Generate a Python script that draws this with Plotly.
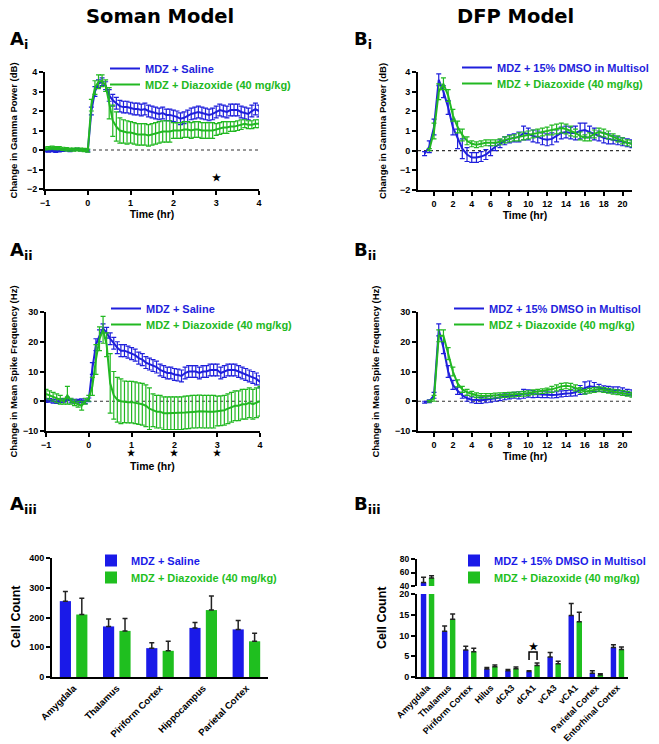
import plotly.graph_objects as go

W, H = 659, 744
OFF = 8  # page body margin
FONT = "Liberation Sans, Arial, sans-serif"
HEAD = "DejaVu Sans, Liberation Sans, sans-serif"
BLUE = "#1f1fdc"
GREEN = "#22b822"
BAR_BLUE = "#1a1ae8"
BAR_GREEN = "#1fbf1f"

# ---- Soman model, 5-min bins from -1 to 4 hr ----
t_soman = [round(-1 + i / 12, 4) for i in range(61)]

gamma_saline = [-0.05, -0.06, -0.04, -0.07, -0.05, -0.02, 0.0, -0.03, 0.02, 0.03, 0.0, 0.02, -0.05,
                2.0, 3.0, 3.4, 3.5, 3.3, 2.8, 2.55, 2.4, 2.25, 2.2, 2.2,
                2.15, 2.1, 2.1, 2.05, 2.1, 2.0, 1.95, 1.9, 1.85, 1.9, 1.8, 1.8,
                1.75, 1.7, 1.6, 1.65, 1.75, 1.85, 1.9, 1.95, 1.9, 1.85, 1.8, 1.85,
                1.95, 2.05, 2.0, 1.95, 2.05, 2.05, 2.05, 1.95, 1.9, 1.85, 2.0, 2.1, 2.0]
gamma_saline_err = [0.05] * 13 + [0.2, 0.25, 0.2, 0.2, 0.2] + [0.3] * 43

gamma_diaz = [0.08, 0.1, 0.12, 0.1, 0.1, 0.06, 0.04, 0.02, 0.02, 0.03, 0.02, 0.0, -0.03,
              2.3, 3.2, 3.5, 3.55, 3.3, 2.4, 1.5, 1.2, 1.0, 0.95, 0.9,
              0.9, 0.85, 0.8, 0.8, 0.8, 0.75, 0.8, 0.85, 0.9, 0.95, 0.95, 0.95,
              1.0, 1.0, 1.0, 1.05, 1.05, 1.0, 1.05, 1.05, 1.0, 1.0, 1.0, 1.0,
              1.05, 1.1, 1.15, 1.15, 1.2, 1.2, 1.25, 1.3, 1.35, 1.3, 1.3, 1.35, 1.35]
gamma_diaz_err = [0.08] * 13 + [0.3, 0.35, 0.35, 0.3, 0.3, 0.8, 0.8, 0.75, 0.65, 0.6, 0.6] + \
                 [0.55] * 12 + [0.4] * 12 + [0.3, 0.3, 0.3, 0.3, 0.25, 0.25, 0.25, 0.25, 0.2, 0.2, 0.2, 0.2, 0.2]

spike_saline = [0.2, 0.3, 0.0, -0.1, 0.2, 0.3, 0.8, 0.1, 0.0, 0.0, 0.2, -0.2, 0.5,
                11, 19, 22, 24.5, 23, 21, 19.5, 18, 17, 17, 16.5,
                16, 15.5, 14.5, 14, 13, 12.5, 12, 11.5, 10.5, 10, 9.5, 9.5,
                9, 8.8, 8.5, 9.5, 10, 10, 10, 9.5, 10, 10, 10.5, 10.5,
                10.5, 9.5, 10, 10.5, 10.5, 10.5, 10, 9.5, 9, 8.5, 8, 7.5, 6.5]
spike_saline_err = [0.6] * 13 + [2, 2, 2, 1.5, 1.8] + [2.0] * 43

spike_diaz = [2.5, 2.0, 1.5, 1.0, 0.5, 0.0, 2.0, 0.0, -0.5, -1.0, -1.5, 0.0, 1.0,
              5, 14, 21, 24, 19, 6, 2, 0.5, 0.0, -0.2, -0.3,
              -0.3, -0.5, -0.8, -1.0, -1.5, -2.5, -3.0, -3.5, -3.5, -4.0, -4.0, -4.0,
              -4.0, -4.0, -4.0, -3.8, -3.7, -3.5, -3.5, -3.4, -3.5, -3.5, -3.5, -3.5,
              -3.3, -3.2, -3.0, -2.5, -2.0, -1.5, -1.5, -1.0, -1.0, -0.5, -1.0, -0.5, 0.0]
spike_diaz_err = [1.5, 1.5, 1.5, 1.5, 1.5, 1.0, 3.0, 1.0, 1.0, 1.0, 1.5, 1.0, 1.0,
                  3, 5, 4, 4.5, 4, 10, 8, 7.5, 7.5] + [7.0] * 8 + [5.5] * 18 + [5.0] * 13

# ---- DFP model, 30-min bins from -1 to 21 hr ----
t_dfp = [-1 + i * 0.5 for i in range(45)]

dfp_gamma_dmso = [-0.15, 0.2, 1.2, 3.6, 3.0, 2.2, 1.2, 0.6, 0.1, -0.2, -0.35, -0.35, -0.3, -0.2, 0.0,
                  0.2, 0.35, 0.5, 0.6, 0.65, 0.7, 0.9, 0.85, 0.75, 0.7, 0.6, 0.55, 0.6, 0.75, 0.9,
                  0.95, 0.9, 0.9, 1.0, 1.05, 0.95, 0.85, 0.75, 0.65, 0.6, 0.55, 0.5, 0.45, 0.4, 0.35]
dfp_gamma_dmso_err = [0.1, 0.3, 0.4, 0.3, 0.3, 0.35, 0.4, 0.5, 0.5, 0.35, 0.25, 0.25, 0.25, 0.25, 0.25,
                      0.2, 0.2, 0.2, 0.2, 0.2, 0.25, 0.35, 0.3, 0.3, 0.3, 0.3, 0.3, 0.3, 0.3, 0.3,
                      0.3, 0.3, 0.35, 0.4, 0.35, 0.3, 0.3, 0.25, 0.25, 0.25, 0.2, 0.2, 0.2, 0.2, 0.2]
dfp_gamma_diaz = [None, 0.05, 1.0, 3.0, 3.4, 2.8, 1.8, 1.2, 0.8, 0.5, 0.35, 0.3, 0.35, 0.4, 0.4,
                  0.4, 0.45, 0.55, 0.6, 0.65, 0.7, 0.75, 0.8, 0.85, 0.9, 0.95, 1.0, 1.05, 1.1, 1.15,
                  1.1, 1.0, 0.9, 0.75, 0.65, 0.7, 0.85, 0.95, 0.9, 0.8, 0.7, 0.6, 0.5, 0.4, 0.35]
dfp_gamma_diaz_err = [0, 0.05, 0.4, 0.4, 0.3, 0.3, 0.3, 0.3, 0.3, 0.2, 0.15, 0.15, 0.15, 0.15, 0.15,
                      0.15, 0.15, 0.15, 0.15, 0.15, 0.2, 0.2, 0.2, 0.2, 0.2, 0.2, 0.2, 0.25, 0.25, 0.25,
                      0.25, 0.25, 0.2, 0.2, 0.15, 0.2, 0.2, 0.2, 0.2, 0.2, 0.15, 0.15, 0.15, 0.15, 0.15]

dfp_spike_dmso = [-0.3, 0.0, 2.0, 24.0, 18.0, 10.0, 5.5, 3.5, 2.0, 1.0, 0.5, 0.3, 0.3, 0.5, 0.7,
                  1.0, 1.2, 1.5, 1.8, 2.0, 2.0, 2.5, 2.6, 2.4, 2.3, 2.2, 2.2, 2.1, 2.2, 2.5,
                  2.6, 2.7, 3.0, 3.8, 4.5, 5.0, 4.8, 4.5, 4.2, 4.0, 3.8, 3.8, 3.5, 3.0, 2.8]
dfp_spike_dmso_err = [0.3, 0.5, 1.0, 2.0, 2.0, 2.0, 1.5, 1.2, 1.0, 1.0, 1.0, 1.0, 1.0, 1.0, 1.0,
                      1.0, 1.0, 1.0, 1.0, 1.0, 1.2, 1.5, 1.2, 1.2, 1.0, 1.0, 1.0, 1.0, 1.0, 1.0,
                      1.0, 1.0, 1.2, 1.5, 2.0, 1.8, 1.5, 1.2, 1.0, 1.0, 1.0, 1.0, 1.0, 1.0, 1.0]
dfp_spike_diaz = [None, 0.0, 1.0, 22.0, 22.0, 16.0, 10.0, 6.0, 4.0, 3.0, 2.5, 2.0, 1.8, 1.8, 1.8,
                  1.9, 2.0, 2.1, 2.2, 2.3, 2.4, 2.5, 2.7, 3.0, 3.2, 3.4, 3.6, 4.0, 4.5, 5.0,
                  5.2, 5.0, 4.5, 3.8, 3.2, 3.5, 3.8, 4.0, 3.8, 3.5, 3.2, 3.0, 2.8, 2.5, 2.2]
dfp_spike_diaz_err = [0, 0.3, 1.0, 2.0, 2.0, 2.0, 1.5, 1.2, 1.0, 1.0, 0.8, 0.8, 0.8, 0.8, 0.8,
                      0.8, 0.8, 0.8, 0.8, 0.8, 0.8, 0.8, 0.8, 0.8, 0.8, 0.8, 0.8, 1.0, 1.0, 1.0,
                      1.0, 1.0, 1.0, 0.8, 0.8, 0.8, 0.8, 0.8, 0.8, 0.8, 0.8, 0.8, 0.8, 0.8, 0.8]

# ---- cell counts ----
soman_regions = ["Amygdala", "Thalamus", "Piriform Cortex", "Hippocampus", "Parietal Cortex"]
soman_saline = [255, 170, 97, 165, 160]
soman_saline_err = [32, 25, 18, 18, 30]
soman_diaz = [210, 155, 88, 225, 120]
soman_diaz_err = [55, 42, 32, 47, 27]

dfp_regions = ["Amygdala", "Thalamus", "Piriform Cortex", "Hilus", "dCA3", "dCA1",
               "vCA3", "vCA1", "Parietal Cortex", "Entorhinal Cortex"]
dfp_dmso = [45, 11.0, 6.5, 1.9, 1.5, 1.3, 4.8, 14.8, 0.9, 7.1]
dfp_dmso_err = [8, 1.3, 0.9, 0.4, 0.3, 0.2, 1.1, 2.9, 0.6, 0.7]
dfp_diaz = [52, 13.9, 6.1, 2.5, 2.0, 2.8, 3.2, 13.3, 0.5, 6.6]
dfp_diaz_err = [3, 1.3, 0.8, 0.4, 0.4, 0.6, 0.6, 2.3, 0.3, 0.6]

SALINE = "MDZ + Saline"
DMSO = "MDZ + 15% DMSO in Multisol"
DIAZ = "MDZ + Diazoxide (40 mg/kg)"


def px(x):
    return (x - OFF) / W


def py(y):
    return 1 - (y - OFF) / H


def lbl(text, color):
    return f'<span style="color:{color}">{text}</span>'


def line(x, y, err, color, name, xa, ya, leg):
    return go.Scatter(x=x, y=y, mode="lines", name=lbl(name, color), legend=leg,
                      xaxis=xa, yaxis=ya, line=dict(color=color, width=2),
                      error_y=dict(type="data", array=err, color=color, thickness=1.2, width=2.5))


def bars(x, y, err, color, name, xa, ya, leg, show=True):
    return go.Bar(x=x, y=y, name=lbl(name, color), legend=leg, showlegend=show,
                  xaxis=xa, yaxis=ya, marker=dict(color=color, line=dict(width=0)),
                  error_y=dict(type="data", array=err, arrayminus=[0] * len(err), symmetric=False,
                               color="#222", thickness=1.5, width=2.5))


data = [
    line(t_soman, gamma_saline, gamma_saline_err, BLUE, SALINE, "x", "y", "legend"),
    line(t_soman, gamma_diaz, gamma_diaz_err, GREEN, DIAZ, "x", "y", "legend2"),
    line(t_dfp, dfp_gamma_dmso, dfp_gamma_dmso_err, BLUE, DMSO, "x2", "y2", "legend3"),
    line(t_dfp, dfp_gamma_diaz, dfp_gamma_diaz_err, GREEN, DIAZ, "x2", "y2", "legend4"),
    line(t_soman, spike_saline, spike_saline_err, BLUE, SALINE, "x3", "y3", "legend5"),
    line(t_soman, spike_diaz, spike_diaz_err, GREEN, DIAZ, "x3", "y3", "legend6"),
    line(t_dfp, dfp_spike_dmso, dfp_spike_dmso_err, BLUE, DMSO, "x4", "y4", "legend7"),
    line(t_dfp, dfp_spike_diaz, dfp_spike_diaz_err, GREEN, DIAZ, "x4", "y4", "legend8"),
    bars(soman_regions, soman_saline, soman_saline_err, BAR_BLUE, SALINE, "x5", "y5", "legend9"),
    bars(soman_regions, soman_diaz, soman_diaz_err, BAR_GREEN, DIAZ, "x5", "y5", "legend10"),
    bars(dfp_regions, dfp_dmso, dfp_dmso_err, BAR_BLUE, DMSO, "x6", "y6", "legend11"),
    bars(dfp_regions, dfp_diaz, dfp_diaz_err, BAR_GREEN, DIAZ, "x6", "y6", "legend12"),
    bars(dfp_regions, dfp_dmso, dfp_dmso_err, BAR_BLUE, DMSO, "x6", "y7", "legend11", show=False),
    bars(dfp_regions, dfp_diaz, dfp_diaz_err, BAR_GREEN, DIAZ, "x6", "y7", "legend12", show=False),
]

tickfont = dict(family=FONT, size=9, color="black", weight="bold")
titlefont = dict(family=FONT, size=9.5, color="black", weight="bold")


def ax(x0, x1, **kw):
    d = dict(domain=[x0, x1], showline=True, linecolor="black", linewidth=2, ticks="outside",
             ticklen=4, tickwidth=2, tickcolor="black", showgrid=False, zeroline=False,
             tickfont=tickfont, fixedrange=True, automargin=False)
    d.update(kw)
    return d


def ytitle(text, standoff=12):
    return dict(text=text, font=titlefont, standoff=standoff)


def xtitle(text):
    return dict(text=text, font=dict(family=FONT, size=10.5, color="black", weight="bold"), standoff=4)


layout = go.Layout(
    template="none",
    width=W, height=H, autosize=False, margin=dict(l=0, r=0, t=0, b=0, pad=0),
    paper_bgcolor="white", plot_bgcolor="white",
    font=dict(family=FONT, color="black"),
    showlegend=True,
    barmode="group", bargap=0.24, bargroupgap=0.32,
    xaxis=ax(px(45), px(259), anchor="y", range=[-1, 4], dtick=1, title=xtitle("Time (hr)")),
    yaxis=ax(py(189), py(72), anchor="x", range=[-2, 4], dtick=1,
             title=ytitle("Change in Gamma Power (dB)")),
    xaxis2=ax(px(418), px(632), anchor="y2", range=[-1.7, 21],
              tickvals=list(range(0, 21, 2)), title=xtitle("Time (hr)")),
    yaxis2=ax(py(190), py(72), anchor="x2", range=[-2, 4], dtick=1,
              title=ytitle("Change in Gamma Power (dB)")),
    xaxis3=ax(px(46), px(260), anchor="y3", range=[-1, 4], dtick=1),
    yaxis3=ax(py(431), py(312), anchor="x3", range=[-10, 30], dtick=10,
              title=ytitle("Change in Mean Spike Frequency (Hz)", 14)),
    xaxis4=ax(px(418), px(632), anchor="y4", range=[-1.7, 21],
              tickvals=list(range(0, 21, 2)), title=xtitle("Time (hr)")),
    yaxis4=ax(py(431), py(312), anchor="x4", range=[-10, 30], dtick=10,
              title=ytitle("Change in Mean Spike Frequency (Hz)", 14)),
    xaxis5=ax(px(52), px(268), anchor="y5", tickangle=-45, ticks="",
              tickfont=dict(family=FONT, size=9.5, color="black", weight="bold")),
    yaxis5=ax(py(677), py(558), anchor="x5", range=[0, 400], dtick=100),
    xaxis6=ax(px(417), px(628), anchor="y6", tickangle=-45, ticks="",
              tickfont=dict(family=FONT, size=9, color="black", weight="bold")),
    yaxis6=ax(py(677), py(594), anchor="x6", range=[0, 20], dtick=5),
    yaxis7=ax(py(586), py(559), anchor="x6", range=[40, 80], dtick=20,
              tickfont=dict(family=FONT, size=8.5, color="black", weight="bold")),
)

# one legend per entry: (left edge of entry, centre y of entry), in page pixels
legend_pos = {
    "legend": (105, 68), "legend2": (105, 84),
    "legend3": (457, 67), "legend4": (457, 83),
    "legend5": (106, 308), "legend6": (106, 324),
    "legend7": (449, 308), "legend8": (449, 324),
    "legend9": (91, 560), "legend10": (91, 577),
    "legend11": (454, 560), "legend12": (454, 577),
}
for key, (lx, ly) in legend_pos.items():
    layout[key] = dict(x=px(lx), y=py(ly - 14), xanchor="left", yanchor="top", visible=True,
                       bgcolor="rgba(0,0,0,0)", borderwidth=0,
                       font=dict(family=FONT, size=11, weight="bold"), itemwidth=30)

fig = go.Figure(data=data, layout=layout)

# dotted zero lines
for xa, ya in [("x", "y"), ("x2", "y2"), ("x3", "y3"), ("x4", "y4")]:
    fig.add_shape(type="line", xref=f"{xa} domain", yref=ya, x0=0, x1=1, y0=0, y1=0,
                  line=dict(color="#333", width=1.2, dash="dot"), layer="below")

# significance bracket for dCA1
fig.add_shape(type="path", xref="x6", yref="y6",
              path="M 4.81 4.1 L 4.81 6.0 L 5.19 6.0 L 5.19 4.1",
              line=dict(color="black", width=1.5))

ann = []


def text(x, y, s, size, xref="paper", yref="paper", family=FONT, **kw):
    d = dict(x=x, y=y, xref=xref, yref=yref, text=s, showarrow=False,
             xanchor="center", yanchor="middle",
             font=dict(family=family, size=size, color="black", weight="bold"))
    d.update(kw)
    ann.append(d)


text(px(160), py(17), "Soman Model", 19.5, family=HEAD)
text(px(515), py(17), "DFP Model", 19.5, family=HEAD)
for lx, ly, s in [(8, 40, "A<sub>i</sub>"), (352, 40, "B<sub>i</sub>"),
                  (8, 251, "A<sub>ii</sub>"), (352, 251, "B<sub>ii</sub>"),
                  (8, 505, "A<sub>iii</sub>"), (352, 505, "B<sub>iii</sub>")]:
    text(px(lx), py(ly), s, 18, family=HEAD, xanchor="left")
text(px(16), py(617), "Cell Count", 12.5, textangle=-90)
text(px(382), py(618), "Cell Count", 12.5, textangle=-90)
text(px(152), py(466), "Time (hr)", 10.5)
text(3, -1.4, "\u2605", 10, xref="x", yref="y")
for h in [1, 2, 3]:
    text(h, py(453), "\u2605", 9, xref="x3")
text(5, 7.3, "\u2605", 10, xref="x6", yref="y6")

fig.update_layout(annotations=ann)
fig.write_html("out.html")
